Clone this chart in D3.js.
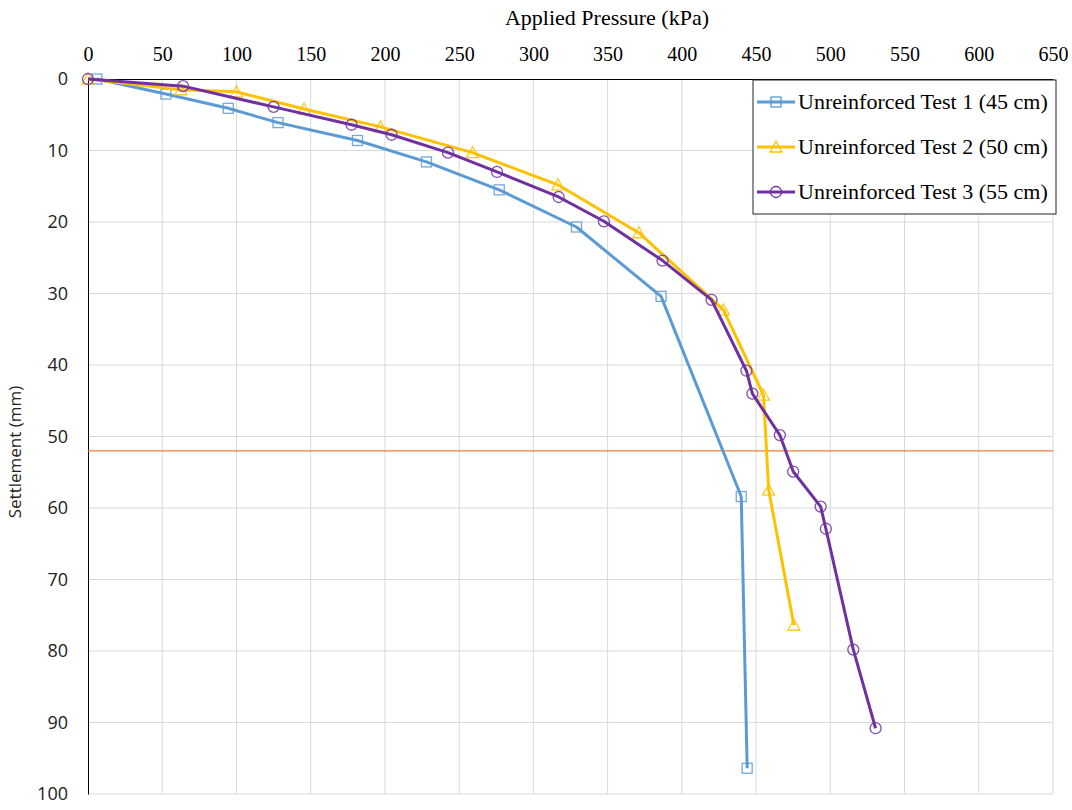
<!DOCTYPE html>
<html>
<head>
<meta charset="utf-8">
<script src="https://cdn.jsdelivr.net/npm/d3@7"></script>
<style>
    body { margin: 0; background: #fff; }
</style>
</head>
<body>
<script>
// Data: pressure in kPa, settlement in mm
let test1Pressure = [6, 52.5, 94.5, 128, 181.5, 228, 277, 329, 386, 440, 444];
let test1Settle = [0, 2.1, 4.1, 6.1, 8.6, 11.6, 15.5, 20.7, 30.4, 58.4, 96.4];

let test2Pressure = [0, 62.5, 100, 145.5, 197, 259, 316.5, 371, 428, 455, 458.5, 475.5];
let test2Settle = [0, 1.5, 1.8, 4.2, 6.7, 10.3, 14.8, 21.5, 32.3, 44.2, 57.5, 76.4];

let test3Pressure = [0, 64, 125, 177.5, 204.5, 242.5, 275.5, 317, 347.5, 387, 420, 443.5, 447.5, 466, 475, 493.5, 497, 515.5, 530.5];
let test3Settle = [0, 1.0, 3.9, 6.4, 7.8, 10.3, 13.0, 16.5, 19.9, 25.4, 30.9, 40.8, 44.0, 49.8, 54.9, 59.8, 62.9, 79.8, 90.8];

let seriesNames = ["Unreinforced Test 1 (45 cm)", "Unreinforced Test 2 (50 cm)", "Unreinforced Test 3 (55 cm)"];
let xTicks = [0, 50, 100, 150, 200, 250, 300, 350, 400, 450, 500, 550, 600, 650];
let yTicks = [0, 10, 20, 30, 40, 50, 60, 70, 80, 90, 100];
let refLine = 52; // horizontal reference line (mm)

let colors = ["#5B9BD5", "#FFC000", "#7030A0"];
let shapes = ["square", "triangle", "circle"];
let serif = "'Liberation Serif', 'Times New Roman', serif";
let sans = "'Open Sans', 'Liberation Sans', sans-serif";

let series = [
    { name: seriesNames[0], p: test1Pressure, s: test1Settle },
    { name: seriesNames[1], p: test2Pressure, s: test2Settle },
    { name: seriesNames[2], p: test3Pressure, s: test3Settle }
];

let svg = d3.select("body").append("svg")
    .attr("width", 1072)
    .attr("height", 810);

let plotL = 88, plotR = 1053, plotT = 79, plotB = 794;

let x = d3.scaleLinear().domain([0, 650]).range([plotL, plotR]);
let y = d3.scaleLinear().domain([0, 100]).range([plotT, plotB]);

// gridlines
xTicks.filter(t => t > 0).forEach(t =>
    svg.append("line")
        .attr("x1", x(t)).attr("x2", x(t))
        .attr("y1", plotT).attr("y2", plotB)
        .attr("stroke", "#d9d9d9")
);
yTicks.filter(t => t > 0).forEach(t =>
    svg.append("line")
        .attr("x1", plotL).attr("x2", plotR)
        .attr("y1", y(t)).attr("y2", y(t))
        .attr("stroke", "#d9d9d9")
);

// axes (top and left)
let xAxis = d3.axisTop(x).tickValues(xTicks).tickSize(0).tickPadding(18);
let gx = svg.append("g").attr("transform", `translate(0,${plotT})`).call(xAxis);
gx.attr("font-family", serif).attr("font-size", 20);
gx.select(".domain").attr("stroke", "#000");
gx.selectAll("text").style("font-family", serif).attr("fill", "#000");

let yAxis = d3.axisLeft(y).tickValues(yTicks).tickSize(0).tickPadding(20);
let gy = svg.append("g").attr("transform", `translate(${plotL},0)`).call(yAxis);
gy.attr("font-family", sans).attr("font-size", 18);
gy.select(".domain").attr("stroke", "#000");
gy.selectAll("text").attr("fill", "#222");

// axis titles
svg.append("text")
    .attr("x", 607).attr("y", 25)
    .attr("text-anchor", "middle")
    .style("font-family", serif)
    .attr("font-size", 22)
    .text("Applied Pressure (kPa)");

svg.append("text")
    .attr("transform", "translate(21,452) rotate(-90)")
    .attr("text-anchor", "middle")
    .style("font-family", sans)
    .attr("font-size", 17)
    .attr("fill", "#222")
    .text("Settlement (mm)");

// reference line
svg.append("line")
    .attr("x1", plotL).attr("x2", plotR)
    .attr("y1", y(refLine)).attr("y2", y(refLine))
    .attr("stroke", "#ED7D31")
    .attr("stroke-width", 1.2);

let line = d3.line()
    .x(d => x(d[0]))
    .y(d => y(d[1]));

function drawMarker(g, shape, cx, cy, color) {
    if (shape == "square") {
        g.append("rect")
            .attr("x", cx - 5).attr("y", cy - 5)
            .attr("width", 10).attr("height", 10)
            .attr("fill", "none").attr("stroke", color).attr("stroke-width", 1.3);
    } else if (shape == "triangle") {
        g.append("path")
            .attr("d", `M${cx},${cy - 6} L${cx + 6},${cy + 5} L${cx - 6},${cy + 5} Z`)
            .attr("fill", "none").attr("stroke", color).attr("stroke-width", 1.3);
    } else {
        g.append("circle")
            .attr("cx", cx).attr("cy", cy).attr("r", 5.5)
            .attr("fill", "none").attr("stroke", color).attr("stroke-width", 1.3);
    }
}

// Draw the series
series.forEach((sr, i) => {
    let pts = sr.p.map((v, j) => [v, sr.s[j]]);
    svg.append("path")
        .datum(pts)
        .attr("d", line)
        .attr("fill", "none")
        .attr("stroke", colors[i])
        .attr("stroke-width", 3)
        .attr("stroke-linejoin", "round");
    let g = svg.append("g").attr("opacity", 0.85);
    pts.forEach(d => drawMarker(g, shapes[i], x(d[0]), y(d[1]), colors[i]));
});

// Legend
let legend = svg.append("g");
legend.append("rect")
    .attr("x", 753).attr("y", 80)
    .attr("width", 303).attr("height", 134)
    .attr("fill", "#fff")
    .attr("stroke", "#222");

seriesNames.forEach((name, i) => {
    let ly = 102 + i * 45;
    legend.append("line")
        .attr("x1", 757).attr("x2", 795)
        .attr("y1", ly).attr("y2", ly)
        .attr("stroke", colors[i])
        .attr("stroke-width", 3);
    drawMarker(legend, shapes[i], 776, ly, colors[i]);
    legend.append("text")
        .attr("x", 798).attr("y", ly + 7)
        .style("font-family", serif)
        .attr("font-size", 22)
        .text(name);
});
</script>
</body>
</html>
